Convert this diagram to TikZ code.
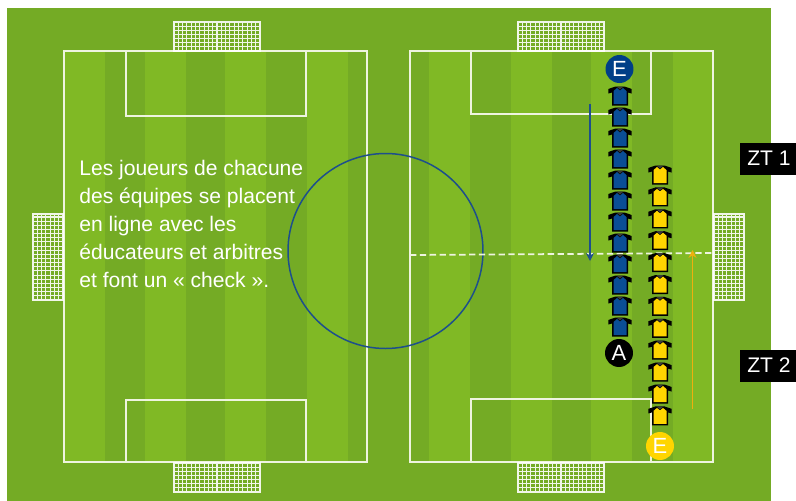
\documentclass[tikz,border=0pt]{standalone}
\usepackage{fontspec}
\setmainfont{Liberation Sans}
\usepackage{xcolor}
\usepackage{tikz}
\usetikzlibrary{arrows.meta}
\definecolor{my_darkgreen}{HTML}{74AB25}
\definecolor{my_lightgreen}{HTML}{80B925}
\definecolor{my_line}{HTML}{EEF4DF}
\definecolor{my_navy}{HTML}{1D4F8C}
\definecolor{my_shirtblue}{HTML}{0A4E96}
\definecolor{my_badgeblue}{HTML}{003F87}
\definecolor{my_yellow}{HTML}{FFD500}
\definecolor{my_orange}{HTML}{EDB00F}
\definecolor{my_collar}{HTML}{3A3A3A}

\begin{document}
\begin{tikzpicture}[
    x=0.02cm, y=-0.02cm,
    field_line/.style={my_line, line width=0.8pt},
    net_line/.style={white, opacity=0.9, line width=0.6pt, y=0.02cm, xstep=4.3, ystep=4.15},
    half_line/.style={my_line, dash pattern=on 3.6pt off 2pt, line width=1pt},
    badge/.style={circle, minimum size=0.56cm, inner sep=0pt, text=white, font=\fontsize{12.5}{12.5}\selectfont},
    zone_label/.style={fill=black, text=white, minimum height=0.64cm, minimum width=1.12cm, inner sep=0pt, font=\fontsize{12}{12}\selectfont},
    pics/shirt/.style={code={
        \fill[black] (-4.5,-9.5) -- (4.5,-9.5) -- (11.7,-7) -- (11.5,-2.5) -- (8,-3.5) -- (8,9.5) -- (-8,9.5) -- (-8,-3.5) -- (-11.5,-2.5) -- (-11.7,-7) -- cycle;
        \fill[#1] (-3,-8) -- (0,-5.5) -- (3,-8) -- (6.5,-5) -- (6.5,8) -- (-6.5,8) -- (-6.5,-5) -- cycle;
        \fill[my_collar] (-3.5,-9.5) -- (0,-6.5) -- (3.5,-9.5) -- cycle;
    }}
]

\useasboundingbox (0,0) rectangle (796,501);

% ---- Ground and mowing stripes ----
\fill[my_darkgreen] (7,8) rectangle (771,501);
\foreach \xstripe in {64,145,225,307,429,511,591,673}
    \fill[my_lightgreen] (\xstripe,51) rectangle ({\xstripe+41},462);

% ---- Left half ----
\draw[field_line] (64,51) rectangle (367,462);
\draw[field_line] (126,51) rectangle (306,116);
\draw[field_line] (126,400) rectangle (306,462);

% ---- Right half ----
\draw[field_line] (410,51) rectangle (713,462);
\draw[field_line] (471,51) rectangle (651,114);
\draw[field_line] (471,399) rectangle (651,462);

% ---- Nets (origin at lower left corner) ----
\draw[shift={(174,51)}, net_line] (0,0) grid (86,29) (0,0) rectangle (86,29);
\draw[shift={(174,492)}, net_line] (0,0) grid (86,29) (0,0) rectangle (86,29);
\draw[shift={(33,300)}, net_line] (0,0) grid (30,86) (0,0) rectangle (30,86);
\draw[shift={(518,51)}, net_line] (0,0) grid (86,29) (0,0) rectangle (86,29);
\draw[shift={(518,492)}, net_line] (0,0) grid (86,29) (0,0) rectangle (86,29);
\draw[shift={(714,300)}, net_line] (0,0) grid (30,86) (0,0) rectangle (30,86);

% ---- Centre circle and halfway line ----
\draw[my_navy, line width=0.85pt] (385.5,251) circle (97.5);
\coordinate (halfW) at (410,255);
\coordinate (halfE) at (713,253);
\draw[half_line] (halfW) -- (halfE);

% ---- Instructions ----
\node[anchor=north west, inner sep=0pt, text=white, align=left,
      font=\fontsize{12}{15.87}\selectfont] (note) at (79,160)
    {Les joueurs de chacune\\des équipes se placent\\en ligne avec les\\éducateurs et arbitres\\et font un « check ».};

% ---- Run arrows ----
\coordinate (blueStart) at (590,104);
\coordinate (blueEnd) at (590,261);
\coordinate (yellowStart) at (692.5,409);
\coordinate (yellowEnd) at (692.5,250);
\draw[my_navy, line width=0.9pt, -{Stealth[length=4.5pt, width=4.5pt]}] (blueStart) -- (blueEnd);
\draw[my_orange, line width=0.9pt, -{Stealth[length=4.5pt, width=4.5pt]}] (yellowStart) -- (yellowEnd);

% ---- Players ----
\foreach \i in {0,...,11}
    \pic at (620,{96+21*\i}) {shirt=my_shirtblue};
\foreach \i in {0,...,11}
    \pic at (660,{175+21.9*\i}) {shirt=my_yellow};

% ---- Staff markers ----
\node[badge, fill=my_badgeblue] (coachBlue) at (619.5,69) {E};
\node[badge, fill=black] (referee) at (619,353) {A};
\node[badge, fill=my_yellow] (coachYellow) at (660,446) {E};

% ---- Zone labels ----
\node[zone_label] (zt_one) at (768,158.5) {\hspace{0.04cm}ZT 1};
\node[zone_label] (zt_two) at (768,365.5) {\hspace{0.04cm}ZT 2};

\end{tikzpicture}
\end{document}
